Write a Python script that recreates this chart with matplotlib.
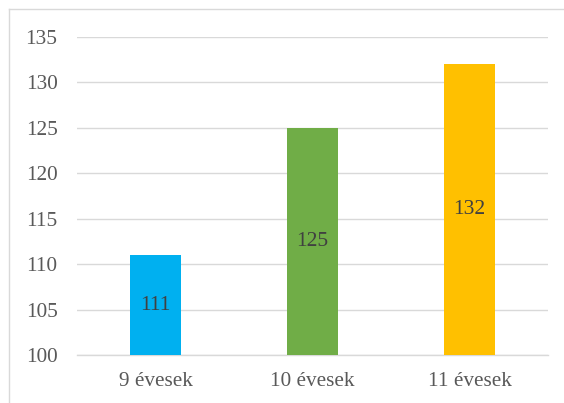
import numpy as np
import matplotlib.pyplot as plt
from matplotlib.lines import Line2D

categories = ['9 évesek', '10 évesek', '11 évesek']
values = [111, 125, 132]
colors = ['#00B0F0', '#70AD47', '#FFC000']
yticks = [100, 105, 110, 115, 120, 125, 130, 135]

plt.rcParams['font.family'] = ['Liberation Serif', 'DejaVu Serif']

fig = plt.figure(figsize=(5.64, 4.03), dpi=100)
ax = fig.add_axes([77/564, 1-355/403, (548-77)/564, (355-37)/403])

x = np.arange(len(categories))
ymin = yticks[0]
bars = ax.bar(x, np.array(values) - ymin, bottom=ymin, width=0.32, color=colors, zorder=3)
for xi, v in zip(x, values):
    ax.text(xi, (v + ymin) / 2, str(v), ha='center', va='center',
            fontsize=15.5, color='#404040', zorder=4)

ax.set_xlim(-0.5, 2.5)
ax.set_ylim(yticks[0], yticks[-1])
ax.set_yticks(yticks)
ax.set_xticks(x)
ax.set_xticklabels(categories)
ax.tick_params(axis='both', length=0, labelsize=15.3, labelcolor='#595959')
ax.tick_params(axis='y', pad=14)
ax.tick_params(axis='x', pad=12.5)
ax.grid(axis='y', color='#D9D9D9', linewidth=1.0, zorder=0)
ax.set_axisbelow(True)
for s in ax.spines.values():
    s.set_visible(False)
ax.axhline(ymin, color='#D9D9D9', linewidth=1.0, zorder=2, clip_on=False)

# chart frame (only top and left edges are visible in the crop)
fig.add_artist(Line2D([9/564, 9/564], [0, 1-9/403], color='#D9D9D9', linewidth=1.0))
fig.add_artist(Line2D([9/564, 1], [1-9/403, 1-9/403], color='#D9D9D9', linewidth=1.0))

fig.savefig('out.png', dpi=100)
